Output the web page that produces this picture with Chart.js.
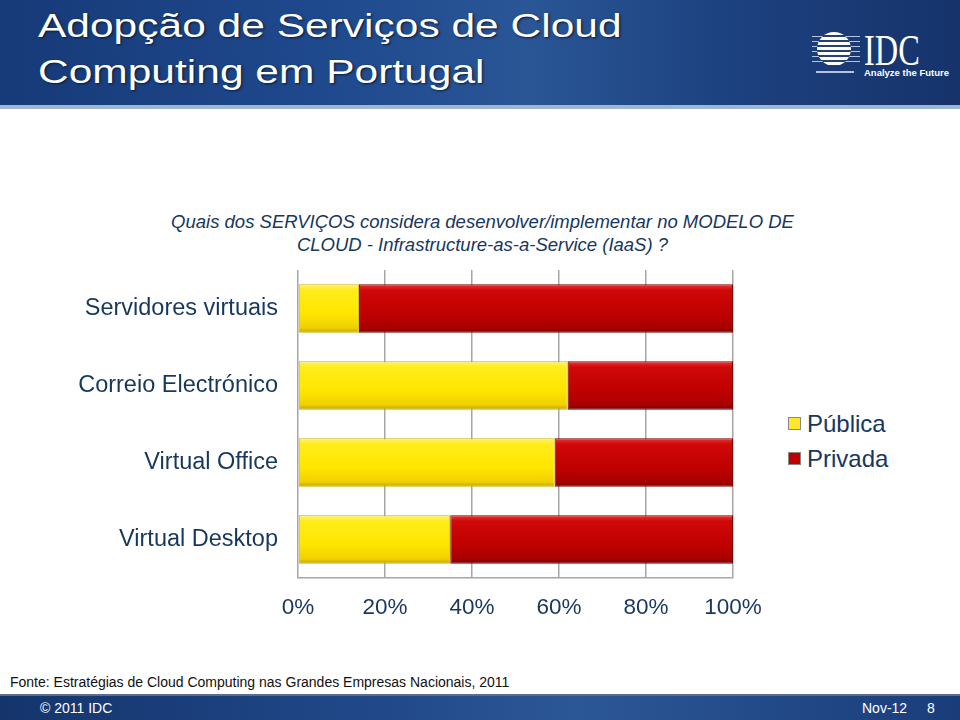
<!DOCTYPE html>
<html>
<head>
<meta charset="utf-8">
<script src="https://cdn.jsdelivr.net/npm/chart.js@4"></script>
<style>
  body { margin: 0; width: 960px; height: 720px; position: relative; overflow: hidden; background: #fff; font-family: "Liberation Sans", Arial, sans-serif; }
  #header { position: absolute; left: 0; top: 0; width: 960px; height: 105px;
    background: linear-gradient(90deg, #173a78 0%, #1f4a8e 35%, #2a5696 55%, #1d4280 75%, #16336b 100%); }
  #strip { position: absolute; left: 0; top: 105px; width: 960px; height: 4px; background: #9fb6d2; }
  #title { position: absolute; left: 38px; top: 2px; color: #fff; font-size: 34px; line-height: 46px; white-space: nowrap;
    transform: scaleX(1.25); transform-origin: 0 0; text-shadow: 1px 1px 2px #0a1a3a; }
  #logo { position: absolute; left: 806px; top: 26px; width: 150px; height: 60px; }
  #globe { position: absolute; left: 11px; top: 6px; width: 34px; height: 34px; border-radius: 50%;
    background: repeating-linear-gradient(180deg, rgba(255,255,255,0.95) 0 3px, rgba(20,50,100,0.9) 3px 5px), #ccc; }
  #lines { position: absolute; left: 6px; top: 10px; width: 48px; height: 28px;
    background: repeating-linear-gradient(180deg, rgba(220,230,245,0.8) 0 1px, transparent 1px 5px); }
  #base { position: absolute; left: 10px; top: 45px; width: 38px; height: 2px; background: rgba(220,230,245,0.8); }
  #idc { position: absolute; left: 58px; top: -2px; font-family: "Liberation Serif", serif; font-size: 45px; color: #fff;
    transform: scaleX(0.72); transform-origin: 0 0; }
  #tag { position: absolute; left: 58px; top: 41px; font-size: 9.5px; font-weight: bold; color: #fff; white-space: nowrap; }
  #sub { position: absolute; left: 0; width: 965px; top: 210px; text-align: center; font-style: italic; font-size: 18.5px; line-height: 23px; color: #17375e; }
  #chartbox { position: absolute; left: 0; top: 235px; width: 780px; height: 395px; }
  #legend { position: absolute; left: 788px; top: 406px; font-size: 24px; color: #17375e; line-height: 35px; }
  #legend span.sw { display: inline-block; width: 11px; height: 11px; margin-right: 6px; vertical-align: 2px; border: 1px solid #888; }
  #fonte { position: absolute; left: 10px; top: 674px; font-size: 14px; color: #111; }
  #rule { position: absolute; left: 0; top: 694px; width: 960px; height: 2px; background: #5a6f8f; }
  #footer { position: absolute; left: 0; top: 696px; width: 960px; height: 24px;
    background: linear-gradient(90deg, #15346c 0%, #21498a 40%, #2c5796 60%, #1a3d7a 100%); color: #fff; font-size: 14px; }
  #footer div { position: absolute; top: 4px; }
</style>
</head>
<body>
<div id="header"></div>
<div id="strip"></div>
<div id="title">Adopção de Serviços de Cloud<br>Computing em Portugal</div>
<div id="logo">
  <div id="lines"></div>
  <div id="globe"></div>
  <div id="base"></div>
  <div id="idc">IDC</div>
  <div id="tag">Analyze the Future</div>
</div>
<div id="sub">Quais dos SERVIÇOS considera desenvolver/implementar no MODELO DE<br>CLOUD - Infrastructure-as-a-Service (IaaS) ?</div>
<div id="chartbox"><canvas id="c" width="780" height="395"></canvas></div>
<div id="legend">
  <div><span class="sw" style="background:#ffe82a"></span>Pública</div>
  <div><span class="sw" style="background:#c00000"></span>Privada</div>
</div>
<div id="fonte">Fonte: Estratégias de Cloud Computing nas Grandes Empresas Nacionais, 2011</div>
<div id="rule"></div>
<div id="footer">
  <div style="left:40px">© 2011 IDC</div>
  <div style="left:862px">Nov-12</div>
  <div style="left:927px">8</div>
</div>
<script>
const categories = ["Servidores virtuais", "Correio Electrónico", "Virtual Office", "Virtual Desktop"];
const publica = [14, 62, 59, 35];
const privada = [86, 38, 41, 65];
const tickLabels = ["0%", "20%", "40%", "60%", "80%", "100%"];

const barPct = 0.63;
// vertical shading per bar, like the glossy bars of the slide
function shade(stops, flat) {
  return ctx => {
    const s = ctx.chart.scales.y;
    if (!s || ctx.type !== "data" || !s.height) return flat;
    const yc = s.getPixelForValue(ctx.dataIndex);
    const h = s.height / categories.length * barPct;
    const g = ctx.chart.ctx.createLinearGradient(0, yc - h / 2, 0, yc + h / 2);
    stops.forEach(([p, c]) => g.addColorStop(p, c));
    return g;
  };
}
const yellow = shade([[0, "#fff27a"], [0.12, "#ffec1a"], [0.6, "#ffe600"], [0.9, "#f0d000"], [1, "#bfa000"]], "#ffe61e");
const red = shade([[0, "#ea3a3a"], [0.12, "#d00808"], [0.6, "#c00000"], [0.9, "#a80000"], [1, "#700000"]], "#c00000");

new Chart(document.getElementById("c"), {
  type: "bar",
  data: {
    labels: categories,
    datasets: [
      { label: "Pública", data: publica, backgroundColor: yellow, borderColor: "#cdb400", borderWidth: 1, borderSkipped: false },
      { label: "Privada", data: privada, backgroundColor: red, borderColor: "#7a0000", borderWidth: 1, borderSkipped: false }
    ]
  },
  options: {
    indexAxis: "y",
    responsive: false,
    animation: false,
    layout: { padding: { top: 35, right: 47, left: 0, bottom: 0 } },
    datasets: { bar: { categoryPercentage: 1, barPercentage: barPct } },
    plugins: { legend: { display: false }, tooltip: { enabled: false } },
    scales: {
      x: {
        stacked: true, min: 0, max: 100,
        ticks: { stepSize: 20, padding: 16, color: "#17375e", font: { family: "Liberation Sans", size: 22.5 },
          callback: (v, i) => tickLabels[i] },
        grid: { color: "#a6a6a6", lineWidth: 1.5, drawTicks: false },
        border: { display: true, color: "#a6a6a6", width: 1.5 },
        afterFit: s => { s.height = 52; }
      },
      y: {
        stacked: true,
        ticks: { padding: 12, color: "#17375e", font: { family: "Liberation Sans", size: 23.5 } },
        grid: { display: false },
        border: { display: false },
        afterFit: s => { s.width = 298; }
      }
    }
  }
});
</script>
</body>
</html>
